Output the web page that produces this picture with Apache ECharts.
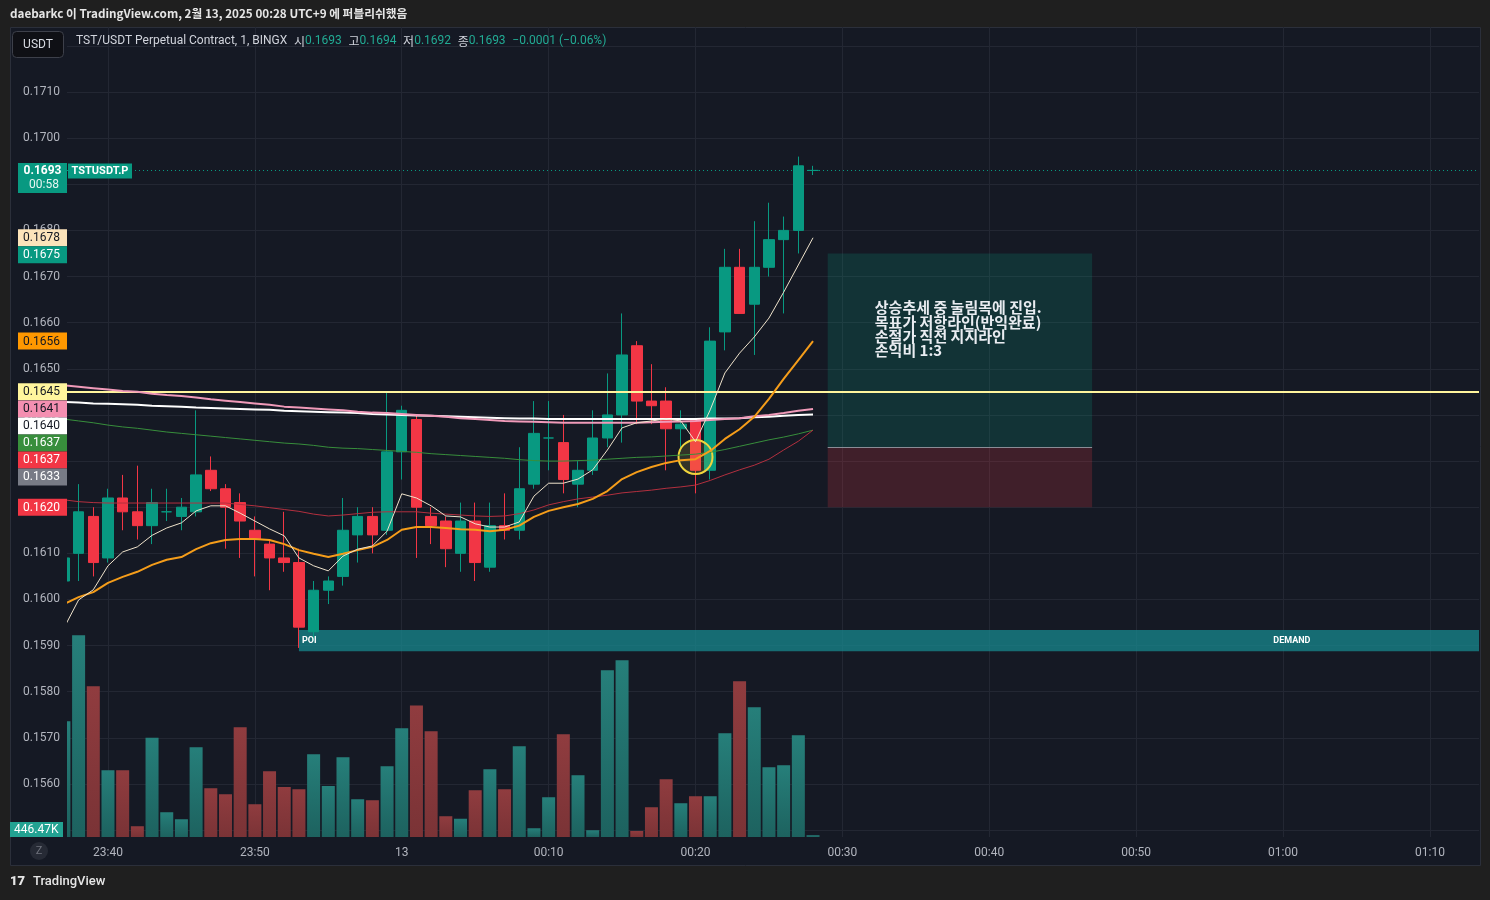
<!DOCTYPE html>
<html>
<head>
<meta charset="utf-8">
<title>TSTUSDT.P</title>
<script src="https://cdn.jsdelivr.net/npm/echarts@6.0.0/dist/echarts.min.js"></script>
<style>
html,body{margin:0;padding:0;background:#1f1f1f;overflow:hidden;}
#chart{width:1490px;height:900px;}
</style>
</head>
<body>
<div id="chart"></div>
<script>
// ---------------- data ----------------
const symbolTitle = 'TST/USDT Perpetual Contract, 1, BINGX';
const tickerTag = 'TSTUSDT.P';
const countdown = '00:58';
const publishLine = 'daebarkc 이 TradingView.com, 2월 13, 2025 00:28 UTC+9 에 퍼블리쉬했음';

const times = ['23:37','23:38','23:39','23:40','23:41','23:42','23:43','23:44','23:45','23:46',
  '23:47','23:48','23:49','23:50','23:51','23:52','23:53','23:54','23:55','23:56',
  '23:57','23:58','23:59','00:00','00:01','00:02','00:03','00:04','00:05','00:06',
  '00:07','00:08','00:09','00:10','00:11','00:12','00:13','00:14','00:15','00:16',
  '00:17','00:18','00:19','00:20','00:21','00:22','00:23','00:24','00:25','00:26',
  '00:27','00:28'];
const opens = [0.1604,0.1610,0.1618,0.1609,0.1622,0.1619,0.1616,0.1619,0.1618,0.1619,
  0.1628,0.1624,0.1621,0.1615,0.1612,0.1609,0.1608,0.1593,0.1602,0.1605,
  0.1614,0.1618,0.1615,0.1632,0.1639,0.1618,0.1617,0.1610,0.1617,0.1607,
  0.1616,0.1615,0.1625,0.1635,0.1634,0.1625,0.1628,0.1635,0.1640,0.1655,
  0.1643,0.1643,0.1637,0.1639,0.1628,0.1658,0.1672,0.1664,0.1672,0.1678,
  0.1680,0.1693];
const highs = [0.1611,0.1625,0.1620,0.1624,0.1627,0.1629,0.1624,0.1624,0.1622,0.1641,
  0.1631,0.1625,0.1623,0.1618,0.1613,0.1619,0.1611,0.1604,0.1605,0.1622,
  0.1620,0.1620,0.1645,0.1642,0.1640,0.1620,0.1618,0.1621,0.1621,0.1621,
  0.1623,0.1633,0.1643,0.1643,0.1640,0.1630,0.1641,0.1649,0.1662,0.1656,
  0.1651,0.1646,0.1641,0.1639,0.1659,0.1676,0.1676,0.1682,0.1686,0.1683,
  0.1696,0.1694];
const lows = [0.1600,0.1604,0.1605,0.1608,0.1615,0.1613,0.1612,0.1617,0.1615,0.1618,
  0.16235,0.1611,0.1609,0.1605,0.1602,0.1606,0.15895,0.1591,0.1599,0.1603,
  0.1608,0.1610,0.1614,0.1626,0.1609,0.1612,0.1607,0.1606,0.1604,0.1606,
  0.1613,0.1613,0.1624,0.1628,0.1623,0.1620,0.1627,0.1633,0.1634,0.1638,
  0.1638,0.1628,0.1632,0.1623,0.1626,0.1654,0.1662,0.1653,0.1670,0.1662,
  0.1675,0.1692];
const closes = [0.1609,0.1619,0.1608,0.1622,0.1619,0.1616,0.1621,0.1619,0.1620,0.1627,
  0.1624,0.1620,0.1617,0.1613,0.1609,0.1608,0.1594,0.1602,0.1604,0.1615,
  0.1618,0.1614,0.1632,0.1641,0.1620,0.1616,0.1611,0.1617,0.1608,0.1616,
  0.1615,0.1624,0.1636,0.1635,0.1626,0.1628,0.1635,0.1640,0.1653,0.1643,
  0.1642,0.1637,0.1638,0.1628,0.1656,0.1672,0.1662,0.1672,0.1678,0.1680,
  0.1694,0.1693];
// volume in thousands
const volumes = [30430,53050,39630,17540,17540,2810,26120,6500,4660,23590,
  12810,11230,28850,8600,17280,13150,12550,21750,13410,20960,
  9920,9650,18590,28590,34580,27800,5440,4810,12280,17800,
  12550,23850,2290,10440,27010,16230,1760,43840,46470,1580,
  7810,15180,8860,10700,10700,27270,40950,34110,18330,18860,
  26750,446.47];

const maFast = [0.15938,0.15999,0.16021,0.16073,0.16103,0.16114,0.16139,0.16155,0.16166,0.16192,
  0.16203,0.16203,0.16187,0.16170,0.16153,0.16138,0.16090,0.16073,0.16062,0.16094,
  0.16109,0.16116,0.16148,0.16229,0.16220,0.16203,0.16181,0.16179,0.16164,0.16157,
  0.16157,0.16168,0.16224,0.16252,0.16252,0.16261,0.16281,0.16324,0.16372,0.16383,
  0.16387,0.16391,0.16387,0.16342,0.16411,0.16491,0.16534,0.16569,0.16610,0.16666,
  0.16725,0.16784];
const maOrange = [0.15990,0.16005,0.16016,0.16036,0.16049,0.16060,0.16075,0.16086,0.16092,0.16109,
  0.16122,0.16129,0.16131,0.16131,0.16129,0.16120,0.16107,0.16099,0.16092,0.16099,
  0.16107,0.16114,0.16129,0.16151,0.16157,0.16157,0.16155,0.16152,0.16151,0.16148,
  0.16151,0.16160,0.16179,0.16192,0.16200,0.16207,0.16218,0.16235,0.16261,0.16276,
  0.16287,0.16296,0.16302,0.16304,0.16322,0.16348,0.16369,0.16396,0.16435,0.16478,
  0.16519,0.16560];
const maPink = [0.16464,0.16461,0.16458,0.16455,0.16452,0.16450,0.16446,0.16443,0.16441,0.16438,
  0.16434,0.16431,0.16428,0.16425,0.16422,0.16418,0.16416,0.16414,0.16412,0.16410,
  0.16407,0.16405,0.16404,0.16402,0.16400,0.16398,0.16396,0.16393,0.16391,0.16389,
  0.16387,0.16386,0.16385,0.16384,0.16383,0.16383,0.16383,0.16383,0.16383,0.16383,
  0.16384,0.16385,0.16386,0.16387,0.16389,0.16391,0.16393,0.16397,0.16400,0.16404,
  0.16409,0.16413];
const maWhite = [0.16428,0.16427,0.16425,0.16424,0.16423,0.16422,0.16420,0.16419,0.16418,0.16416,
  0.16415,0.16414,0.16413,0.16412,0.16411,0.16409,0.16408,0.16407,0.16406,0.16405,
  0.16404,0.16402,0.16401,0.16400,0.16399,0.16398,0.16397,0.16396,0.16395,0.16394,
  0.16393,0.16392,0.16392,0.16391,0.16391,0.16391,0.16391,0.16391,0.16391,0.16391,
  0.16391,0.16391,0.16391,0.16391,0.16392,0.16392,0.16393,0.16395,0.16396,0.16398,
  0.16400,0.16401];
const maGreen = [0.16391,0.16387,0.16383,0.16378,0.16374,0.16371,0.16367,0.16363,0.16360,0.16357,
  0.16354,0.16351,0.16348,0.16345,0.16342,0.16339,0.16337,0.16334,0.16330,0.16328,
  0.16327,0.16325,0.16323,0.16321,0.16319,0.16316,0.16314,0.16312,0.16310,0.16308,
  0.16306,0.16303,0.16301,0.16300,0.16300,0.16301,0.16302,0.16304,0.16306,0.16308,
  0.16309,0.16311,0.16313,0.16315,0.16319,0.16325,0.16332,0.16339,0.16346,0.16352,
  0.16359,0.16367];
const maRed = [0.16216,0.16212,0.16210,0.16209,0.16209,0.16209,0.16209,0.16209,0.16209,0.16209,
  0.16209,0.16209,0.16206,0.16203,0.16199,0.16195,0.16191,0.16185,0.16181,0.16183,
  0.16186,0.16189,0.16190,0.16190,0.16190,0.16187,0.16185,0.16183,0.16181,0.16180,
  0.16181,0.16186,0.16194,0.16205,0.16212,0.16218,0.16222,0.16226,0.16231,0.16234,
  0.16237,0.16241,0.16244,0.16248,0.16258,0.16270,0.16281,0.16291,0.16304,0.16324,
  0.16343,0.16367];

const hLinePrice = 0.1645;
const posStart = '00:29', posEnd = '00:47';
const posTarget = 0.1675, posEntry = 0.1633, posStop = 0.1620;
const noteLines = ['상승추세 중 눌림목에 진입.', '목표가 저항라인(반익완료)', '손절가 직전 지지라인', '손익비 1:3'];
const noteTime = '00:32', notePrice = 0.16648;
const zoneStart = '23:53', zoneTop = 0.15934, zoneBottom = 0.15888;
const zoneLeftLabel = 'POI', zoneRightLabel = 'DEMAND', zoneRightLabelTime = '01:00';
const circleTime = '00:20', circlePrice = 0.16309;

// ---------------- helpers ----------------
const BASE = 23 * 60 + 40;
function toX(s) {
  const p = s.split(':').map(Number);
  let t = p[0] * 60 + p[1];
  if (t < BASE - 720) t += 1440;
  return t - BASE;
}
function pad(n) { return (n < 10 ? '0' : '') + n; }
function fmtTime(v) {
  let t = ((Math.round(v) + BASE) % 1440 + 1440) % 1440;
  if (t === 0) return '13';
  return pad(Math.floor(t / 60)) + ':' + pad(t % 60);
}
const FONT = 'Roboto, "Noto Sans CJK KR", "Noto Sans", sans-serif';
const KFONT = '"Noto Sans CJK KR", Roboto, sans-serif';
const UP = '#089981', DOWN = '#f23645';
const PANEL = '#151924';
const last = times.length - 1;

const xs = times.map(toX);
const candleData = times.map((t, i) => [xs[i], opens[i], closes[i], lows[i], highs[i]]);
const volUp = new echarts.graphic.LinearGradient(0, 0, 0, 1, [{offset: 0, color: '#267f7a'}, {offset: 1, color: '#1d625f'}]);
const volDown = new echarts.graphic.LinearGradient(0, 0, 0, 1, [{offset: 0, color: '#903c3f'}, {offset: 1, color: '#7a3336'}]);
const volData = times.map((t, i) => ({value: [xs[i], volumes[i]], itemStyle: {color: closes[i] >= opens[i] ? volUp : volDown}}));
const lineData = arr => arr.map((v, i) => [xs[i], v]);

function maSeries(arr, color, width) {
  return {type: 'line', data: lineData(arr), symbol: 'none', showSymbol: false, clip: true,
    lineStyle: {color: color, width: width}, z: 5, silent: true, animation: false};
}

const chart = echarts.init(document.getElementById('chart'), null, {width: 1490, height: 900});

const Y_MIN = 0.154851, Y_MAX = 0.172409;
const option = {
  backgroundColor: '#1f1f1f',
  animation: false,
  grid: {left: 67, right: 11, top: 27, bottom: 63},
  xAxis: {
    type: 'value', min: -2.79, max: 93.34, minInterval: 10, maxInterval: 10, splitNumber: 10,
    axisLine: {show: false}, axisTick: {show: false},
    axisLabel: {color: '#b2b5be', fontSize: 12, fontFamily: FONT, margin: 10,
      showMinLabel: false, showMaxLabel: false, formatter: fmtTime},
    splitLine: {show: true, showMinLine: false, showMaxLine: false, lineStyle: {color: '#232733', width: 1}}
  },
  yAxis: [
    {type: 'value', position: 'left', min: Y_MIN, max: Y_MAX, minInterval: 0.001, maxInterval: 0.001,
      splitNumber: 18, z: 0,
      axisLine: {show: false}, axisTick: {show: false}, axisLabel: {show: false},
      splitLine: {show: true, showMinLine: false, showMaxLine: false, lineStyle: {color: '#232733', width: 1}}},
    {type: 'value', min: 0, max: 213000, show: false, splitLine: {show: false}},
    {type: 'value', position: 'left', min: Y_MIN, max: Y_MAX, minInterval: 0.001, maxInterval: 0.001,
      splitNumber: 18, z: 50,
      axisLine: {show: false}, axisTick: {show: false}, splitLine: {show: false},
      axisLabel: {color: '#b2b5be', fontSize: 12, fontFamily: FONT, align: 'left', margin: 44,
        showMinLabel: false, showMaxLabel: false, formatter: v => v.toFixed(4)}}
  ],
  series: [
    {type: 'bar', yAxisIndex: 1, data: volData, barWidth: 13, clip: true, z: 1, silent: true},
    {type: 'line', data: [], symbol: 'none', z: 2, silent: true,
      markArea: {silent: true, label: {show: false},
        data: [
          [{xAxis: toX(zoneStart), yAxis: zoneTop, itemStyle: {color: 'rgba(24,140,146,0.72)'}}, {yAxis: zoneBottom}],
          [{xAxis: toX(posStart), yAxis: posTarget, itemStyle: {color: 'rgba(8,153,129,0.2)'}}, {xAxis: toX(posEnd), yAxis: posEntry}],
          [{xAxis: toX(posStart), yAxis: posEntry, itemStyle: {color: 'rgba(242,54,69,0.2)'}}, {xAxis: toX(posEnd), yAxis: posStop}]
        ]},
      markLine: {silent: true, precision: 6, symbol: ['none', 'none'], label: {show: false},
        data: [
          [{xAxis: toX(zoneStart), yAxis: (zoneTop + zoneBottom) / 2, lineStyle: {color: 'rgba(255,255,255,0.22)', width: 1, type: 'solid'}},
           {yAxis: (zoneTop + zoneBottom) / 2}],
          [{xAxis: toX(posStart), yAxis: posEntry, lineStyle: {color: '#8a8d96', width: 1, type: 'solid'}},
           {xAxis: toX(posEnd), yAxis: posEntry}]
        ]}
    },
    {type: 'candlestick', data: candleData, barWidth: 11, clip: true, z: 3, silent: true,
      dimensions: ['t', 'open', 'close', 'lowest', 'highest'],
      encode: {x: 't', y: ['open', 'close', 'lowest', 'highest']},
      itemStyle: {color: UP, color0: DOWN, borderColor: UP, borderColor0: DOWN, borderColorDoji: UP, borderWidth: 1},
      markPoint: {silent: true, symbol: 'circle', symbolSize: 34, label: {show: false},
        itemStyle: {color: 'rgba(255,235,59,0.13)', borderColor: '#f0d43c', borderWidth: 2},
        data: [{coord: [toX(circleTime), circlePrice]}]}
    },
    maSeries(maGreen, '#388e3c', 1),
    maSeries(maRed, '#b3303f', 1),
    maSeries(maWhite, '#ffffff', 2),
    maSeries(maPink, '#f09ab9', 2),
    maSeries(maOrange, '#f59d1a', 2),
    maSeries(maFast, '#efe3cc', 1),
    {type: 'line', data: [], symbol: 'none', z: 6, silent: true,
      markLine: {silent: true, precision: 6, symbol: ['none', 'none'], label: {show: false},
        data: [
          {yAxis: hLinePrice, lineStyle: {color: '#fff59d', width: 2, type: 'solid'}},
          {yAxis: closes[last], lineStyle: {color: UP, width: 1, type: [1, 3]}}
        ]}
    }
  ]
};
chart.setOption(option);

// ---------------- overlay texts & price-scale labels ----------------
const py = v => chart.convertToPixel({yAxisIndex: 0}, v);
const pxy = (x, y) => chart.convertToPixel({xAxisIndex: 0, yAxisIndex: 0}, [x, y]);
const g = [];
const grect = chart.getModel().getComponent('grid', 0).coordinateSystem.getRect();

// panel background
g.push({type: 'rect', z: -100, shape: {x: 10.5, y: 27.5, width: 1470, height: 838},
  style: {fill: PANEL, stroke: '#2b2f3a', lineWidth: 1}, silent: true});
// price-scale strip covers anything overflowing the plot on the left
g.push({type: 'rect', z: 40, shape: {x: 11, y: 28, width: grect.x - 11, height: grect.height + grect.y - 28},
  style: {fill: PANEL}, silent: true});

// top publish line
g.push({type: 'text', x: 10, y: 14, z: 100, style: {text: publishLine, fill: '#e6e6e6',
  font: 'bold 11.7px ' + KFONT, verticalAlign: 'middle'}});
// bottom logo
g.push({type: 'text', x: 10, y: 882, z: 100, style: {text: '17', fill: '#e6e6e6',
  font: '900 13px Roboto, sans-serif', verticalAlign: 'middle'}});
g.push({type: 'text', x: 33, y: 882, z: 100, style: {text: 'TradingView', fill: '#e6e6e6',
  font: '500 13px Roboto, sans-serif', verticalAlign: 'middle'}});

// USDT button
g.push({type: 'rect', z: 100, shape: {x: 12.5, y: 31.5, width: 51, height: 26, r: 4},
  style: {fill: '#0f1015', stroke: '#3d404a', lineWidth: 1}});
g.push({type: 'text', x: 38, y: 44.5, z: 101, style: {text: 'USDT', fill: '#d9dce3',
  font: '12px ' + FONT, align: 'center', verticalAlign: 'middle'}});

// header
const chg = closes[last] - closes[last - 1];
const pct = chg / closes[last - 1] * 100;
g.push({type: 'text', x: 76, y: 41, z: 101, style: {
  text: '{t|' + symbolTitle + '}  {k|시}{v|' + opens[last].toFixed(4) + '}  {k|고}{v|' + highs[last].toFixed(4) +
    '}  {k|저}{v|' + lows[last].toFixed(4) + '}  {k|종}{v|' + closes[last].toFixed(4) + '}  {v|' +
    (chg < 0 ? '\u2212' : '+') + Math.abs(chg).toFixed(4) + ' (' + (pct < 0 ? '\u2212' : '+') + Math.abs(pct).toFixed(2) + '%)}',
  verticalAlign: 'middle',
  rich: {
    t: {fill: '#d1d4dc', font: '12px ' + FONT},
    k: {fill: '#d1d4dc', font: '12px ' + KFONT},
    v: {fill: '#22ab94', font: '12px ' + FONT}
  }}});

// current price label (two lines) + ticker tag
const yc = py(closes[last]);
g.push({type: 'rect', z: 100, shape: {x: 18, y: yc - 7.5, width: 49, height: 30}, style: {fill: UP}});
g.push({type: 'text', x: 42.5, y: yc + 0.5, z: 101, style: {text: closes[last].toFixed(4), fill: '#ffffff',
  font: 'bold 12px ' + FONT, align: 'center', verticalAlign: 'middle'}});
g.push({type: 'text', x: 44, y: yc + 14.5, z: 101, style: {text: countdown, fill: '#e8f5f2',
  font: '12px ' + FONT, align: 'center', verticalAlign: 'middle'}});
g.push({type: 'rect', z: 100, shape: {x: 68, y: yc - 7, width: 64, height: 15}, style: {fill: UP}});
g.push({type: 'text', x: 100, y: yc + 0.5, z: 101, style: {text: tickerTag, fill: '#ffffff',
  font: 'bold 11px ' + FONT, align: 'center', verticalAlign: 'middle'}});

// stacked price-scale labels
const labels = [
  {v: maFast[last], bg: '#fce3ba', fg: '#131722'},
  {v: posTarget, bg: UP, fg: '#ffffff'},
  {v: maOrange[last], bg: '#ff9800', fg: '#131722'},
  {v: hLinePrice, bg: '#fff59d', fg: '#131722'},
  {v: maPink[last], bg: '#f48fb1', fg: '#131722'},
  {v: maWhite[last], bg: '#ffffff', fg: '#131722'},
  {v: maGreen[last], bg: '#388e3c', fg: '#ffffff'},
  {v: maRed[last], bg: '#f23645', fg: '#ffffff'},
  {v: posEntry, bg: '#787b86', fg: '#ffffff'},
  {v: posStop, bg: '#f23645', fg: '#ffffff'}
];
labels.sort((a, b) => b.v - a.v);
let prev = -1e9;
const LH = 17;
labels.forEach(l => {
  let c = py(l.v);
  if (c < prev + LH) c = prev + LH;
  prev = c;
  g.push({type: 'rect', z: 100, shape: {x: 18, y: c - LH / 2, width: 49, height: LH}, style: {fill: l.bg}});
  g.push({type: 'text', x: 23, y: c + 0.5, z: 101, style: {text: l.v.toFixed(4), fill: l.fg,
    font: '12px ' + FONT, verticalAlign: 'middle'}});
});

// volume label
const yv = Math.min(chart.convertToPixel({yAxisIndex: 1}, volumes[last]), grect.y + grect.height - 7.5);
g.push({type: 'rect', z: 100, shape: {x: 10, y: yv - 7.5, width: 53, height: 15}, style: {fill: '#22a292'}});
g.push({type: 'text', x: 14, y: yv + 0.5, z: 101, style: {text: volumes[last].toFixed(2) + 'K', fill: '#ffffff',
  font: '12px ' + FONT, verticalAlign: 'middle'}});

// Z button
g.push({type: 'circle', z: 100, shape: {cx: 39, cy: 851, r: 9}, style: {fill: '#262a35'}});
g.push({type: 'text', x: 39, y: 851.5, z: 101, style: {text: 'Z', fill: '#6f727c', font: '11px ' + FONT,
  align: 'center', verticalAlign: 'middle'}});

// zone labels
const zMid = (zoneTop + zoneBottom) / 2;
const pz = pxy(toX(zoneStart), zMid);
g.push({type: 'text', x: pz[0] + 3, y: pz[1], z: 30, style: {text: zoneLeftLabel, fill: '#ffffff',
  font: 'bold 9px ' + FONT, verticalAlign: 'middle'}});
const pd = pxy(toX(zoneRightLabelTime) + 0.6, zMid);
g.push({type: 'text', x: pd[0], y: pd[1], z: 30, style: {text: zoneRightLabel, fill: '#ffffff',
  font: 'bold 9px ' + FONT, align: 'center', verticalAlign: 'middle'}});

// note text inside the position box
const pn = pxy(toX(noteTime), notePrice);
g.push({type: 'text', x: pn[0] + 3, y: pn[1], z: 30, style: {text: noteLines.join('\n'), fill: '#e9ecf1',
  font: 'bold 15px ' + KFONT, lineHeight: 14.3, verticalAlign: 'top'}});

chart.setOption({graphic: g});
</script>
</body>
</html>
